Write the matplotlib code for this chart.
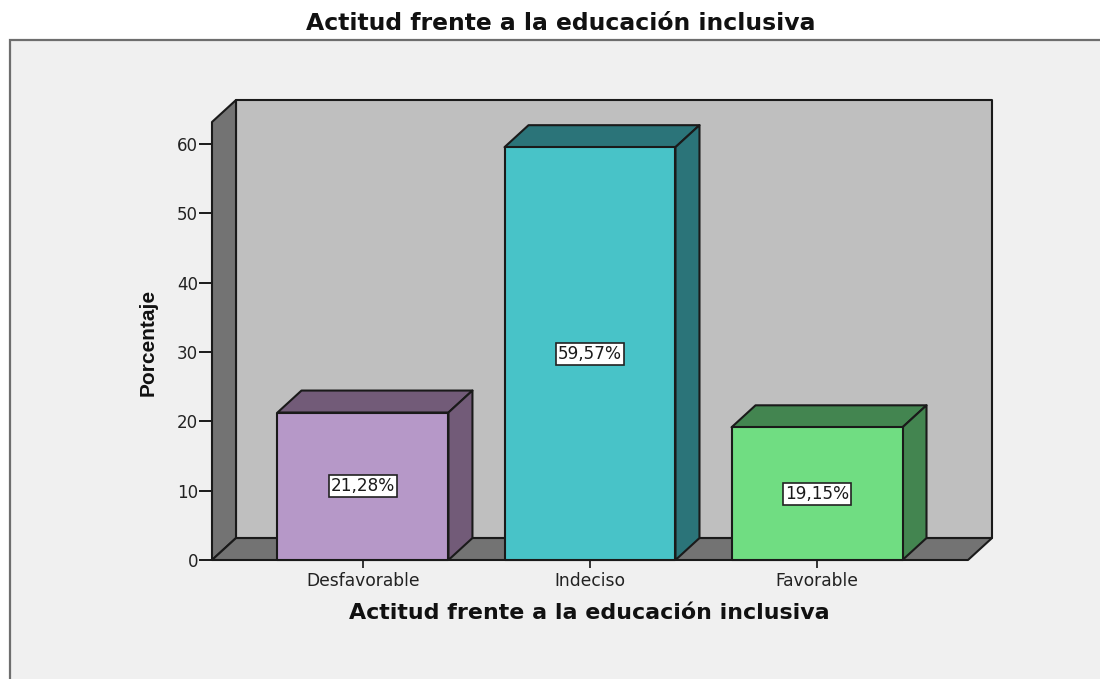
import matplotlib
matplotlib.use("Agg")
import matplotlib.pyplot as plt
from matplotlib.patches import Polygon, Rectangle

# Datos del gráfico
categorias = ['Desfavorable', 'Indeciso', 'Favorable']
porcentajes = [21.28, 59.57, 19.15]
etiquetas = ['21,28%', '59,57%', '19,15%']
marcas_y = [0, 10, 20, 30, 40, 50, 60]
titulo = 'Actitud frente a la educación inclusiva'

# Colores de cada barra: frente y caras laterales
color_frente = ['#b698c8', '#48c3c8', '#70dd82']
color_lado = ['#725b78', '#2b7479', '#438550']

W, H = 1100, 679
ANCHO_BARRA = 0.753
DX = 0.1057   # profundidad en unidades de categoria
DY = 3.17     # profundidad en unidades de porcentaje
X0, X1 = -0.665, 2.665
Y1 = 63.2
BORDE = '#1a1a1a'
LW = 1.5

fig = plt.figure(figsize=(W / 100, H / 100), dpi=100, facecolor='white')

# Panel gris claro de fondo
fondo = fig.add_axes([0, 0, 1, 1], zorder=0)
fondo.set_xlim(0, W)
fondo.set_ylim(H, 0)
fondo.axis('off')
fondo.add_patch(Rectangle((10, 40), W, H, fc='#f0f0f0', ec='#6e6e6e', lw=1.6))

ax = fig.add_axes([212 / W, 1 - 560 / H, 756 / W, 438 / H], zorder=1)
ax.patch.set_visible(False)
ax.set_xlim(X0, X1)
ax.set_ylim(0, Y1)
for lado in ax.spines.values():
    lado.set_visible(False)


def poligono(puntos, color, z=2):
    ax.add_patch(Polygon(puntos, closed=True, fc=color, ec=BORDE, lw=LW, zorder=z,
                         clip_on=False, joinstyle='round'))


# Pared del fondo, pared izquierda y suelo
poligono([(X0 + DX, DY), (X1 + DX, DY), (X1 + DX, Y1 + DY), (X0 + DX, Y1 + DY)], '#bfbfbf')
poligono([(X0, 0), (X0 + DX, DY), (X0 + DX, Y1 + DY), (X0, Y1)], '#737373')
poligono([(X0, 0), (X1, 0), (X1 + DX, DY), (X0 + DX, DY)], '#737373')

# Barras con sus caras
for i, valor in enumerate(porcentajes):
    izq = i - ANCHO_BARRA / 2
    der = i + ANCHO_BARRA / 2
    poligono([(izq, valor), (der, valor), (der + DX, valor + DY), (izq + DX, valor + DY)], color_lado[i], 3)
    poligono([(der, 0), (der + DX, DY), (der + DX, valor + DY), (der, valor)], color_lado[i], 3)
    poligono([(izq, 0), (der, 0), (der, valor), (izq, valor)], color_frente[i], 4)
    ax.text(i, valor / 2, etiquetas[i], ha='center', va='center', fontsize=12.2, color='#1a1a1a',
            family='DejaVu Sans', zorder=5,
            bbox=dict(boxstyle='square,pad=0.12', fc='white', ec='#222222', lw=1.2))

ax.set_yticks(marcas_y)
ax.set_xticks(range(len(categorias)))
ax.set_xticklabels(categorias, family='DejaVu Sans', fontsize=12.3, color='#222222')
ax.tick_params(axis='y', length=9.4, width=1.4, color=BORDE, labelsize=12, labelcolor='#222222', pad=0.5)
ax.tick_params(axis='x', length=5.8, width=1.4, color='#333333', pad=2.5)

fig.text(561 / W, 1 - 23 / H, titulo, ha='center', va='center', fontsize=16.9,
         fontweight='bold', family='DejaVu Sans', color='#111111')
fig.text(589 / W, 1 - 613 / H, titulo, ha='center', va='center', fontsize=15.9,
         fontweight='bold', family='DejaVu Sans', color='#111111')
fig.text(148 / W, 1 - 342 / H, 'Porcentaje', ha='center', va='center', rotation=90, fontsize=15,
         fontweight='bold', family='Liberation Sans', color='#111111')

fig.savefig('out.png', dpi=100, facecolor='white')
